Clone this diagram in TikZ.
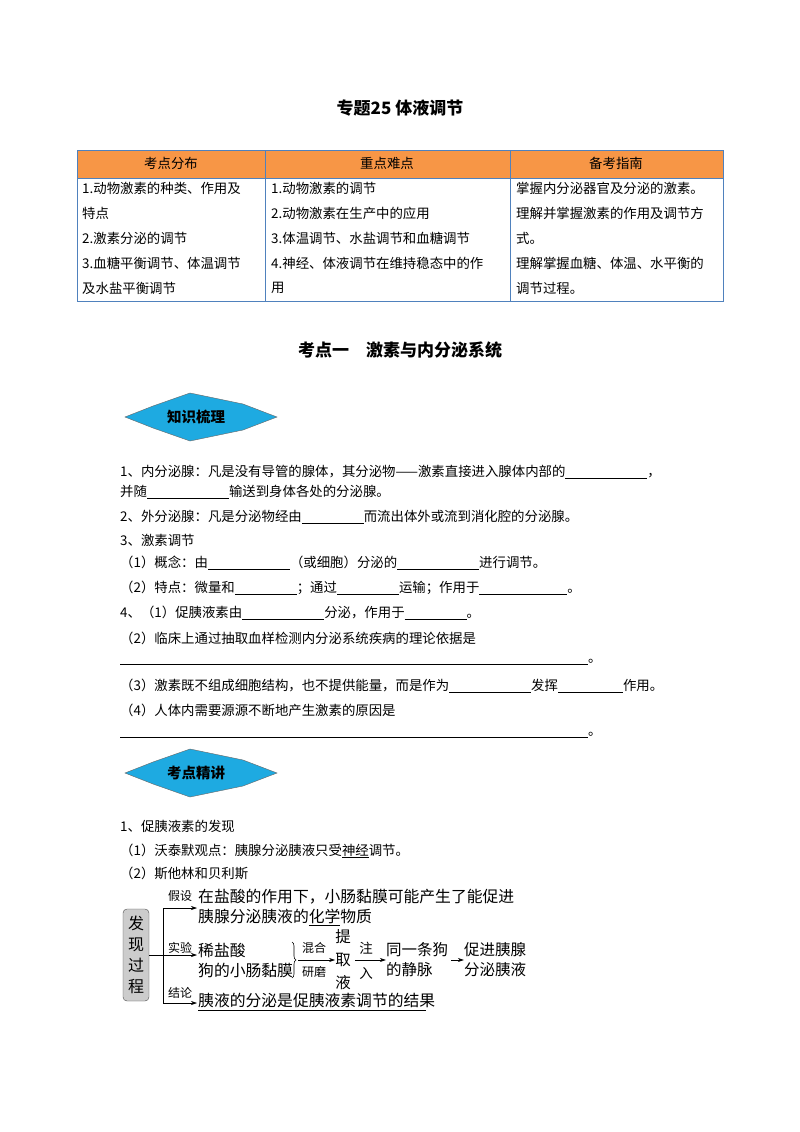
\documentclass[tikz,border=0pt]{standalone}
\usepackage{fontspec}
\setmainfont{Noto Sans CJK SC}
\usetikzlibrary{arrows.meta,decorations.pathreplacing}
\newcommand{\bk}[1]{\rule[-2pt]{#1pt}{0.9pt}}
\newcommand{\tk}[1]{\rule[-2pt]{#1pt}{0.4pt}}
\definecolor{hdr}{RGB}{247,150,70}
\definecolor{tbl}{RGB}{79,129,189}
\definecolor{dia}{RGB}{30,170,225}
\tikzset{
  tx/.style={anchor=west,inner sep=0pt,font=\fontsize{13.4}{15}\selectfont},
  ct/.style={inner sep=0pt,font=\fontsize{13.4}{15}\selectfont},
  dg/.style={anchor=west,inner sep=0pt,font=\fontsize{15.8}{17}\selectfont},
  lb/.style={inner sep=0pt,font=\fontsize{12}{14}\selectfont},
  hd/.style={inner sep=0pt,font=\bfseries\fontsize{17}{19}\selectfont},
  ar/.style={-{Stealth[length=6pt,width=4pt]},line width=0.6pt},
  dm/.style={fill=dia,draw=black!60,line width=0.4pt}
}
\begin{document}
\begin{tikzpicture}[x=1pt,y=-1pt]
\fill[white] (0,0) rectangle (800,1132);
\useasboundingbox (0,0) rectangle (800,1132);
\node[hd] (title) at (400,108) {专题25 体液调节};
% table
\fill[hdr] (77,150) rectangle (723,178);
\draw[tbl,line width=0.8pt] (77,150) rectangle (723,301);
\draw[tbl,line width=0.8pt] (77,178) -- (723,178) (265,150) -- (265,301) (510,150) -- (510,301);
\node[ct] (h1) at (171,163) {考点分布};
\node[ct] (h2) at (387,163) {重点难点};
\node[ct] (h3) at (616,163) {备考指南};
\foreach \t [count=\i] in {1.动物激素的种类、作用及,特点,2.激素分泌的调节,3.血糖平衡调节、体温调节,及水盐平衡调节}
  \node[tx] (a\i) at (82,{163+25*\i}) {\t};
\foreach \t [count=\i] in {1.动物激素的调节,2.动物激素在生产中的应用,3.体温调节、水盐调节和血糖调节,4.神经、体液调节在维持稳态中的作,用}
  \node[tx] (b\i) at (271,{163+25*\i}) {\t};
\foreach \t [count=\i] in {掌握内分泌器官及分泌的激素。,理解并掌握激素的作用及调节方,式。,理解掌握血糖、体温、水平衡的,调节过程。}
  \node[tx] (c\i) at (516,{163+25*\i}) {\t};
\node[hd] (sec) at (400,350) {考点一\quad 激素与内分泌系统};
% diamond 1
\draw[dm] (125,417) -- (153,406) -- (190,393) -- (243,404) -- (277,417) -- (243,430) -- (190,441) -- (153,428) -- cycle;
\node[lb,font=\bfseries\fontsize{14.5}{16}\selectfont] (d1) at (196,417) {知识梳理};
\node[tx] (l1) at (120,472) {1、内分泌腺：凡是没有导管的腺体，其分泌物——激素直接进入腺体内部的\bk{82}，};
\node[tx] (l2) at (120,492) {并随\bk{82}输送到身体各处的分泌腺。};
\node[tx] (l3) at (120,517) {2、外分泌腺：凡是分泌物经由\tk{62}而流出体外或流到消化腔的分泌腺。};
\node[tx] (l4) at (120,540) {3、激素调节};
\node[tx] (l5) at (120,563) {（1）概念：由\bk{82}（或细胞）分泌的\bk{82}进行调节。};
\node[tx] (l6) at (120,588) {（2）特点：微量和\tk{62}；通过\tk{62}运输；作用于\tk{88}。};
\node[tx] (l7) at (120,613) {4、（1）促胰液素由\bk{82}分泌，作用于\tk{62}。};
\node[tx] (l8) at (120,638) {（2）临床上通过抽取血样检测内分泌系统疾病的理论依据是};
\node[tx] (l9) at (120,662) {\tk{468}。};
\node[tx] (l10) at (120,686) {（3）激素既不组成细胞结构，也不提供能量，而是作为\bk{82}发挥\tk{65}作用。};
\node[tx] (l11) at (120,710) {（4）人体内需要源源不断地产生激素的原因是};
\node[tx] (l12) at (120,735) {\tk{468}。};
% diamond 2
\draw[dm] (125,773) -- (153,762) -- (190,749) -- (243,760) -- (277,773) -- (243,786) -- (190,797) -- (153,784) -- cycle;
\node[lb,font=\bfseries\fontsize{14.5}{16}\selectfont] (d2) at (196,773) {考点精讲};
\node[tx] (m1) at (120,826) {1、促胰液素的发现};
\node[tx] (m2) at (120,851) {（1）沃泰默观点：胰腺分泌胰液只受\underline{神经}调节。};
\node[tx] (m3) at (120,873) {（2）斯他林和贝利斯};
% diagram
\node[draw=black!70,fill=black!20,rounded corners=4pt,minimum width=26pt,minimum height=92pt,inner sep=0pt,align=center,font=\fontsize{16}{21}\selectfont] (box) at (136,955) {发\\现\\过\\程};
\coordinate (j) at (163,955);
\coordinate (jt) at (163,908);
\coordinate (jb) at (163,1003);
\coordinate (e1) at (197,908);
\coordinate (e2) at (197,955);
\coordinate (e3) at (197,1003);
\draw[line width=0.6pt] (box.east) -- (j);
\draw[line width=0.6pt] (jt) -- (jb);
\draw[ar] (jt) -- (e1);
\draw[ar] (j) -- (e2);
\draw[ar] (jb) -- (e3);
\node[lb] (k1) at (180,896) {假设};
\node[lb] (k2) at (180,948) {实验};
\node[lb] (k3) at (180,993) {结论};
\node[dg] (p1) at (198,897) {在盐酸的作用下，小肠黏膜可能产生了能促进};
\node[dg] (p2) at (198,917) {胰腺分泌胰液的\underline{化学}物质};
\node[dg] (q1) at (198,950) {稀盐酸};
\node[dg] (q2) at (198,970) {狗的小肠黏膜};
\draw[line width=0.6pt,decorate,decoration={brace,amplitude=4pt}] (292,942) -- (292,978);
\coordinate (s1) at (298,960);
\node[inner sep=0pt,align=center,font=\fontsize{15.5}{23}\selectfont] (tq) at (343,960) {提\\取\\液};
\draw[ar] (s1) -- (tq.west);
\node[lb] (mh) at (314,948) {混合};
\node[lb] (ym) at (314,972) {研磨};
\node[inner sep=0pt,align=left,font=\fontsize{15.5}{20}\selectfont] (gz) at (417,960) {同一条狗\\的静脉};
\draw[ar] (tq.east) ++(4,0) -- (gz.west);
\node[lb,font=\fontsize{13.5}{15}\selectfont] (zz) at (366,948) {注};
\node[lb,font=\fontsize{13.5}{15}\selectfont] (rr) at (366,973) {入};
\node[inner sep=0pt,align=left,font=\fontsize{15.5}{20}\selectfont] (cj) at (495,960) {促进胰腺\\分泌胰液};
\draw[ar] (gz.east) ++(3,0) -- (cj.west);
\node[dg] (r1) at (198,1000) {胰液的分泌是促胰液素调节的结果};
\draw[line width=0.6pt] (r1.south west) ++(0,3) -- ++(228,0);
\end{tikzpicture}
\end{document}
